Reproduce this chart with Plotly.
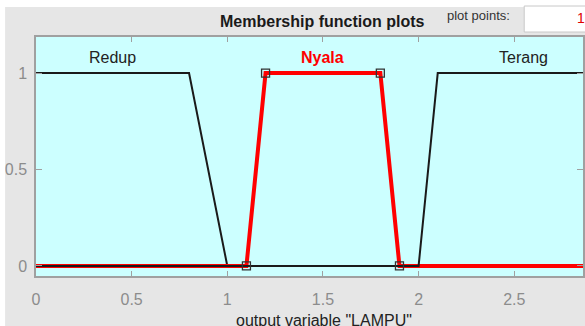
import plotly.graph_objects as go

# Output variable "LAMPU": universe of discourse and trapezoidal membership functions
universe = [0.0, 3.0]
mf_names = ["Redup", "Nyala", "Terang"]
redup_params = [0.0, 0.0, 0.8, 1.0]
nyala_params = [1.1, 1.2, 1.8, 1.9]
terang_params = [2.0, 2.1, 3.0, 3.0]
label_x = [0.4, 1.5, 2.55]
selected_mf = "Nyala"

x_ticks = [0, 0.5, 1, 1.5, 2, 2.5, 3]
y_ticks = [0, 0.5, 1]

FONT = "Liberation Sans, Arial, Helvetica, sans-serif"
BG_FIG = "#e6e6e6"
BG_AX = "#ccffff"
AX_GREY = "#a0a0a0"


def trapmf(x, p):
    a, b, c, d = p
    if b <= x <= c:
        return 1.0
    if a < x < b:
        return (x - a) / (b - a)
    if c < x < d:
        return (d - x) / (d - c)
    return 0.0


def trap_curve(p, lo, hi):
    xs = [lo] + list(p) + [hi]
    return xs, [trapmf(x, p) for x in xs]


params = {"Redup": redup_params, "Nyala": nyala_params, "Terang": terang_params}

fig = go.Figure()
for name in mf_names:
    xs, ys = trap_curve(params[name], *universe)
    sel = name == selected_mf
    fig.add_trace(go.Scatter(
        x=xs, y=ys, mode="lines", cliponaxis=False,
        line=dict(color="#ff0000" if sel else "#1a1a1a", width=4 if sel else 2),
        hoverinfo="skip", showlegend=False,
    ))

# vertex handles on the selected function
p = params[selected_mf]
fig.add_trace(go.Scatter(
    x=p, y=[trapmf(v, p) for v in p], mode="markers", cliponaxis=False,
    marker=dict(symbol="square-open", size=8, color="#333333", line=dict(width=1.3)),
    hoverinfo="skip", showlegend=False,
))

# function names above each curve
for name, lx in zip(mf_names, label_x):
    sel = name == selected_mf
    fig.add_annotation(
        x=lx, y=1.08, xref="x", yref="y", text=name, showarrow=False,
        xanchor="center", yanchor="middle",
        font=dict(family=FONT, size=16, color="#ff0000" if sel else "#222222",
                  weight="bold" if sel else "normal"),
    )

W, H = 585, 326
ML, MT, MB = 36, 37, 50
PW, PH = W - ML, H - MT - MB


def px(xp):
    return (xp - ML) / PW


def py(yp):
    return (H - MB - yp) / PH


def text_at(x, y, text, size, color, weight="normal", xanchor="center"):
    fig.add_annotation(x=px(x), y=py(y), xref="paper", yref="paper",
                       text=text, showarrow=False, xanchor=xanchor, yanchor="middle",
                       font=dict(family=FONT, size=size, color=color, weight=weight))


# white window edges and the plot-points input box
fig.add_shape(type="rect", xref="paper", yref="paper", layer="above",
              x0=px(-2), x1=px(5), y0=py(H + 2), y1=py(-2),
              fillcolor="white", line=dict(width=0))
fig.add_shape(type="rect", xref="paper", yref="paper", layer="above",
              x0=px(-2), x1=px(W + 2), y0=py(7), y1=py(-2),
              fillcolor="white", line=dict(width=0))
fig.add_shape(type="rect", xref="paper", yref="paper", layer="above",
              x0=px(526), x1=px(W + 5), y0=py(32), y1=py(6),
              fillcolor="white", line=dict(width=1, color="#c8c8c8"))

text_at(324, 21, "Membership function plots", 16, "#1a1a1a", weight="bold")
text_at(480, 15, "plot points:", 13, "#333333")
text_at(577, 18, "1", 14, "#e00000", xanchor="left")
text_at(325, 320, 'output variable "LAMPU"', 16, "#222222")

fig.update_layout(
    width=W, height=H,
    margin=dict(l=ML, r=0, t=MT, b=MB, pad=0),
    paper_bgcolor=BG_FIG, plot_bgcolor=BG_AX,
    font=dict(family=FONT, size=16, color="#8c8c8c"),
    xaxis=dict(range=[0, (W - ML) / 192.0], tickvals=x_ticks, ticks="inside",
               ticklen=5, tickcolor=AX_GREY, showline=True, linecolor=AX_GREY,
               linewidth=1.5, mirror="ticks", showgrid=False, zeroline=False,
               ticklabelstandoff=8, tickfont=dict(color="#8c8c8c", size=16)),
    yaxis=dict(range=[-0.052, 1.187], tickvals=y_ticks, ticks="inside",
               ticklen=6, tickcolor=AX_GREY, showline=True, linecolor=AX_GREY,
               linewidth=1.5, mirror="ticks", showgrid=False, zeroline=False,
               ticklabelstandoff=4, tickfont=dict(color="#8c8c8c", size=16)),
)

fig.write_html("out.html")
